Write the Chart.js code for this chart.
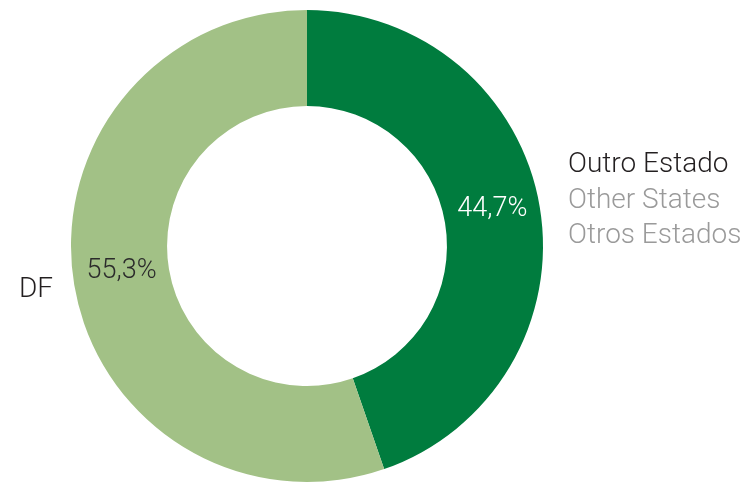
<!DOCTYPE html>
<html>
<head>
<meta charset="utf-8">
<script src="https://cdn.jsdelivr.net/npm/chart.js@4"></script>
<style>
  html, body { margin: 0; padding: 0; background: #fff; }
  #wrap { width: 744px; height: 484px; }
</style>
</head>
<body>
<div id="wrap"><canvas id="donut"></canvas></div>
<script>
// data
const categories = ['Outro Estado', 'DF']
const translationsEn = ['Other States', '']
const translationsEs = ['Otros Estados', '']
const shares = [44.7, 55.3]
const sliceColors = ['#007C3E', '#A2C186']
const pctColors = ['#ffffff', '#2b2b2b']

const FONT = 'Roboto, "DejaVu Sans Condensed", sans-serif'

// draws the % inside each slice and the category names outside
const sliceLabels = {
  id: 'sliceLabels',
  afterDatasetsDraw(chart) {
    const ctx = chart.ctx
    const meta = chart.getDatasetMeta(0)
    const area = chart.chartArea
    ctx.save()
    ctx.font = '300 27px ' + FONT
    ctx.textBaseline = 'middle'
    ctx.textAlign = 'center'
    meta.data.forEach((arc, i) => {
      const p = arc.getCenterPoint()
      ctx.fillStyle = pctColors[i]
      ctx.fillText(shares[i].toFixed(1).replace('.', ',') + '%', p.x, p.y - 6)
    })

    // right side: Outro Estado + translations
    ctx.font = '300 28px ' + FONT
    let x = area.right + 25
    ctx.textAlign = 'left'
    ctx.fillStyle = '#231F20'
    ctx.fillText(categories[0], x, 165)
    ctx.fillStyle = '#9A9A9A'
    ctx.fillText(translationsEn[0], x, 201)
    ctx.fillText(translationsEs[0], x, 236)

    // left side: DF
    ctx.fillStyle = '#231F20'
    ctx.textAlign = 'right'
    ctx.fillText(categories[1], area.left - 18, 290)
    ctx.restore()
  }
}

const chart = document.getElementById('donut')

let donutChart = new Chart(chart, {
  type: 'doughnut',
  data: {
    labels: categories,
    datasets: [
      {
        data: shares,
        backgroundColor: sliceColors,
        borderWidth: 0
      }
    ]
  },
  options: {
    responsive: true,
    maintainAspectRatio: false,
    animation: false,
    cutout: '59.3%',
    rotation: 0,
    layout: { padding: { left: 71, right: 201, top: 10, bottom: 2 } },
    plugins: {
      legend: { display: false },
      tooltip: { enabled: false }
    }
  },
  plugins: [sliceLabels]
})
</script>
</body>
</html>
